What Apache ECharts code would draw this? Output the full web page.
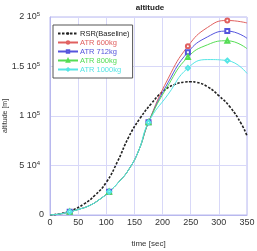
<!DOCTYPE html>
<html>
<head>
<meta charset="utf-8">
<script src="https://cdn.jsdelivr.net/npm/echarts@6/dist/echarts.min.js"></script>
<style>
  html, body { margin: 0; padding: 0; background: #fff; }
  #chart { width: 257px; height: 251px; }
</style>
</head>
<body>
<div id="chart"></div>
<script>
// time [sec] and altitude [m]
const baseTime = [0, 20, 40, 60, 80, 100, 120, 140, 160, 180, 200, 220, 240, 250, 260, 280, 300, 320, 340, 350]
const baseAlt = [0, 1500, 5000, 11000, 20000, 33000, 54000, 79000, 97700, 112500, 124500, 131500, 134300, 134600, 134000, 129500, 120500, 109000, 92000, 80000]

// common ascent of all ATR cases
const ascTime = [0, 17.5, 35, 52.5, 70, 87.5, 105, 122.5, 140, 157.5, 175]
const ascAlt = [0, 1000, 3300, 6000, 9500, 15500, 23500, 33500, 46000, 65000, 93600]

// after separation
const tailTime = [210, 245, 280, 315, 350]
const atr600 = [138000, 170500, 189500, 196500, 194000]
const atr712 = [134000, 164500, 180000, 185800, 178500]
const atr800 = [131000, 159500, 172000, 176000, 168000]
const atr1000 = [122000, 148500, 157000, 156000, 143000]

// y tick labels: mantissa and exponent
const yTicks = { 50000: ['5 10', '4'], 100000: ['1 10', '5'], 150000: ['1.5 10', '5'], 200000: ['2 10', '5'] }

const pairs = (ts, vs) => ts.map((t, i) => [t, vs[i]])
const atrData = tail => pairs(ascTime, ascAlt).concat(pairs(tailTime, tail))

const chart = echarts.init(document.getElementById('chart'))

const atrSeries = (name, color, symbol, tail) => ({
  name: name,
  type: 'line',
  smooth: true,
  data: atrData(tail),
  symbol: symbol,
  symbolSize: v => ((v[0] - 35) % 70 === 0 ? 4 : 0),
  lineStyle: { color: color, width: 1 },
  itemStyle: { color: color, borderWidth: 1 },
  emphasis: { disabled: true }
})

chart.setOption({
  animation: false,
  textStyle: { fontFamily: 'Liberation Sans', color: '#333' },
  title: {
    text: 'altitude',
    left: 145,
    top: -1,
    textAlign: 'center',
    textStyle: { fontSize: 8, fontWeight: 'bold', color: '#222' }
  },
  legend: {
    orient: 'vertical',
    left: 53,
    top: 25,
    itemWidth: 20,
    itemHeight: 3,
    itemGap: 0,
    padding: [4, 3, 4, 4],
    backgroundColor: '#fff',
    borderColor: '#555',
    borderWidth: 1,
    borderRadius: 0,
    textStyle: { fontSize: 7.5, lineHeight: 9, padding: [0, 0, 0, -3] },
    data: [
      { name: 'RSR(Baseline)', textStyle: { color: '#222' } },
      { name: 'ATR 600kg', textStyle: { color: '#e0605f' } },
      { name: 'ATR 712kg', textStyle: { color: '#5555dd' } },
      { name: 'ATR 800kg', textStyle: { color: '#55dd55' } },
      { name: 'ATR 1000kg', textStyle: { color: '#55e5e5' } }
    ]
  },
  grid: {
    left: 50,
    right: 10,
    top: 17,
    bottom: 36,
    outerBoundsMode: 'none',
    show: true,
    borderColor: '#b8b8ee',
    borderWidth: 1
  },
  xAxis: {
    type: 'value',
    min: 0,
    max: 350,
    interval: 50,
    name: 'time [sec]',
    nameLocation: 'middle',
    nameGap: 25,
    nameMoveOverlap: false,
    nameTextStyle: { fontSize: 8, color: '#333' },
    axisLine: { lineStyle: { color: '#b8b8ee' } },
    axisTick: { show: false },
    axisLabel: { fontSize: 9, color: '#333', margin: 3 },
    splitLine: { lineStyle: { color: '#d8d8f8', width: 1 } }
  },
  yAxis: {
    type: 'value',
    min: 0,
    max: 200000,
    interval: 50000,
    name: 'altitude [m]',
    nameLocation: 'middle',
    nameGap: 41,
    nameMoveOverlap: false,
    nameTextStyle: { fontSize: 7, color: '#333' },
    axisLine: { show: true, lineStyle: { color: '#b8b8ee' } },
    axisTick: { show: false },
    axisLabel: {
      fontSize: 9,
      color: '#333',
      margin: 6,
      formatter: v => (yTicks[v] ? '{m|' + yTicks[v][0] + '}{e|' + yTicks[v][1] + '}' : String(v)),
      rich: {
        m: { fontSize: 9, color: '#333' },
        e: { fontSize: 6, color: '#333', verticalAlign: 'top', padding: [0, 4, 5, 0] }
      }
    },
    splitLine: { lineStyle: { color: '#d8d8f8', width: 1 } }
  },
  series: [
    {
      name: 'RSR(Baseline)',
      type: 'line',
      smooth: true,
      data: pairs(baseTime, baseAlt),
      showSymbol: false,
      symbol: 'none',
      lineStyle: { color: '#222', width: 1.6, type: [2.5, 1.5] },
      itemStyle: { color: '#222' },
      emphasis: { disabled: true }
    },
    atrSeries('ATR 600kg', '#e0605f', 'emptyCircle', atr600),
    atrSeries('ATR 712kg', '#5555dd', 'emptyRect', atr712),
    atrSeries('ATR 800kg', '#55dd55', 'emptyTriangle', atr800),
    atrSeries('ATR 1000kg', '#55e5e5', 'emptyDiamond', atr1000)
  ]
})
</script>
</body>
</html>
